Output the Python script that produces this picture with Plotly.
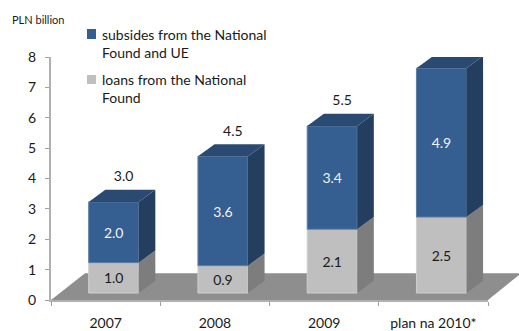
import plotly.graph_objects as go

# Investment funding by year, PLN billion
categories = ["2007", "2008", "2009", "plan na 2010*"]
loans = [1.0, 0.9, 2.1, 2.5]
subsidies = [2.0, 3.6, 3.4, 4.9]
y_ticks = [0, 1, 2, 3, 4, 5, 6, 7, 8]
legend_subsidies = "subsides from the National<br>Found and UE"
legend_loans = "loans from the National<br>Found"
unit_label = "PLN billion"

W, H = 519, 331
L, R, T, B = 51, 488, 57, 300
FONT = "Lato"
TEXT = "#1a1a1a"

BLUE_FRONT, BLUE_SIDE, BLUE_TOP = "#365f91", "#243e5f", "#2a4a72"
GREY_FRONT, GREY_SIDE, GREY_TOP = "#bfbfbf", "#7d7d7d", "#8c8c8c"
FLOOR = "#8e8e8e"

# Pseudo-3D geometry, in axis units
BAR_WIDTH = 0.458
BAR_OFFSET = -0.155
FRONT_BASE = 0.23
DEPTH_X = 0.152
DEPTH_Y = 0.40
TOTAL_DX = 0.09
TOTAL_DY = 0.80

positions = list(range(len(categories)))
totals = [a + b for a, b in zip(loans, subsidies)]


def px_x(px):
    return (px - L) / (R - L)


def face(xs, ys, colour):
    return go.Scatter(
        x=xs, y=ys, mode="lines", fill="toself", fillcolor=colour,
        line=dict(width=0), hoverinfo="skip", showlegend=False, cliponaxis=False,
    )


fig = go.Figure()

# Front faces of the stacked columns
bar_text = dict(
    texttemplate="%{customdata:.1f}", textposition="inside", insidetextanchor="middle",
    textangle=0, constraintext="none",
)
fig.add_bar(
    x=positions, y=loans, base=[FRONT_BASE] * len(loans), customdata=loans,
    width=BAR_WIDTH, offset=BAR_OFFSET, name="loans",
    marker=dict(color=GREY_FRONT, line=dict(width=1, color="#cfcfcf")),
    textfont=dict(family=FONT, size=14, color=TEXT), **bar_text,
)
fig.add_bar(
    x=positions, y=subsidies, base=[FRONT_BASE + v for v in loans], customdata=subsidies,
    width=BAR_WIDTH, offset=BAR_OFFSET, name="subsidies",
    marker=dict(color=BLUE_FRONT, line=dict(width=1, color="#5f7ea6")),
    textfont=dict(family=FONT, size=14, color="#f2f2f2"), **bar_text,
)

# Side and top faces of the columns
for p, low, high in zip(positions, loans, subsidies):
    x0 = p + BAR_OFFSET + BAR_WIDTH
    x1 = x0 + DEPTH_X
    xl = p + BAR_OFFSET
    y0 = FRONT_BASE
    y1 = FRONT_BASE + low
    y2 = y1 + high
    fig.add_trace(face([x0, x1, x1, x0, x0], [y0, y0 + DEPTH_Y, y1 + DEPTH_Y, y1, y0], GREY_SIDE))
    fig.add_trace(face([x0, x1, x1, x0, x0], [y1, y1 + DEPTH_Y, y2 + DEPTH_Y, y2, y1], BLUE_SIDE))
    fig.add_trace(face([xl, xl + DEPTH_X, x1, x0, xl], [y2, y2 + DEPTH_Y, y2 + DEPTH_Y, y2, y2], BLUE_TOP))

# Totals above the columns
fig.add_trace(go.Scatter(
    x=[p + BAR_OFFSET + BAR_WIDTH / 2 + TOTAL_DX for p in positions],
    y=[FRONT_BASE + t + TOTAL_DY for t in totals],
    mode="text", text=[f"{t:.1f}" for t in totals],
    textposition="middle center", textfont=dict(family=FONT, size=14, color=TEXT),
    hoverinfo="skip", showlegend=False, cliponaxis=False,
))

shapes = [
    # Floor plane under the columns
    dict(
        type="path", layer="below", xref="paper", yref="y",
        path=f"M {px_x(L)} 0 L {px_x(R)} 0 L {px_x(R + 33)} 0.88 L {px_x(L + 34)} 0.88 Z",
        fillcolor=FLOOR, line=dict(width=0),
    ),
    # Legend swatches
    dict(type="rect", xref="paper", yref="paper", x0=px_x(87), x1=px_x(96),
         y0=(B - 39) / (B - T), y1=(B - 29) / (B - T),
         fillcolor=BLUE_FRONT, line=dict(width=0)),
    dict(type="rect", xref="paper", yref="paper", x0=px_x(87), x1=px_x(96),
         y0=(B - 84) / (B - T), y1=(B - 75) / (B - T),
         fillcolor=GREY_FRONT, line=dict(width=0)),
]


def note(text, px, py, size):
    return dict(
        text=text, xref="paper", yref="paper", x=px_x(px), y=(B - py) / (B - T),
        xanchor="left", yanchor="top", align="left", showarrow=False, borderpad=0,
        font=dict(family=FONT, size=size, color=TEXT),
    )


fig.update_layout(
    width=W, height=H, autosize=False,
    margin=dict(l=L, r=W - R, t=T, b=H - B, pad=0),
    paper_bgcolor="white", plot_bgcolor="white",
    barmode="overlay", showlegend=False,
    xaxis=dict(
        automargin=False,
        range=[-0.5, 3.5], tickmode="array", tickvals=positions, ticktext=categories,
        ticks="", showgrid=False, zeroline=False, showline=True, linecolor="#b0b0b0", linewidth=2,
        tickfont=dict(family=FONT, size=14, color=TEXT), ticklabelstandoff=9,
        minor=dict(tickmode="array", tickvals=[-0.5, 0.5, 1.5, 2.5, 3.5], ticks="outside",
                   ticklen=4, tickwidth=1, tickcolor="#a0a0a0", showgrid=False),
    ),
    yaxis=dict(
        automargin=False,
        range=[0, 8], tickmode="array", tickvals=y_ticks,
        ticks="outside", ticklen=4, tickwidth=1, tickcolor="#a0a0a0",
        showgrid=False, zeroline=False, showline=True, linecolor="#b0b0b0", linewidth=2,
        tickfont=dict(family=FONT, size=14, color=TEXT), ticklabelstandoff=6,
    ),
    shapes=shapes,
    annotations=[
        note(unit_label, 11, 12, 11),
        note(legend_subsidies, 101, 25, 14),
        note(legend_loans, 101, 70, 14),
    ],
)

fig.write_html("out.html")
